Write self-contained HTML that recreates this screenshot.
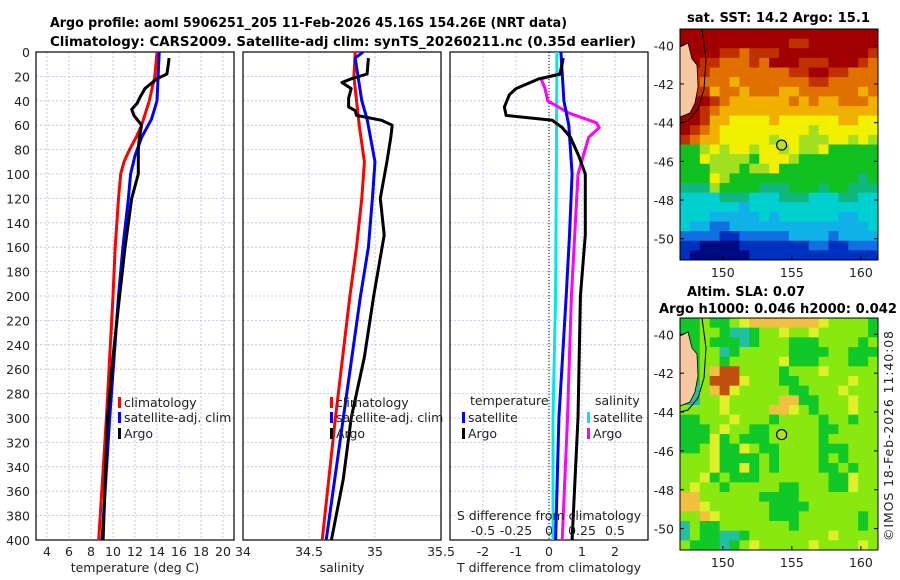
<!DOCTYPE html>
<html><head><meta charset="utf-8"><style>
body{margin:0;background:#fff}
svg{display:block;font-family:"DejaVu Sans","Liberation Sans",sans-serif}
.t{font-size:12.5px;fill:#222}
.b{font-size:13px;font-weight:bold;fill:#000}
</style></head><body>
<svg id="s" width="900" height="580" viewBox="0 0 900 580">
<text class="b" x="50" y="27" textLength="517" lengthAdjust="spacingAndGlyphs">Argo profile: aoml 5906251_205 11-Feb-2026 45.16S 154.26E (NRT data)</text>
<text class="b" x="50" y="46" textLength="586" lengthAdjust="spacingAndGlyphs">Climatology: CARS2009. Satellite-adj clim: synTS_20260211.nc (0.35d earlier)</text>
<text class="b" x="687" y="22" textLength="183" lengthAdjust="spacingAndGlyphs">sat. SST: 14.2 Argo: 15.1</text>
<text class="b" x="687" y="296" textLength="118" lengthAdjust="spacingAndGlyphs">Altim. SLA: 0.07</text>
<text class="b" x="659" y="313" textLength="238" lengthAdjust="spacingAndGlyphs">Argo h1000: 0.046 h2000: 0.042</text>
<text class="t" transform="translate(893,541) rotate(-90)" textLength="210">©IMOS 18-Feb-2026 11:40:08</text>
<g id="g"></g>
</svg>
<script>
// ---- data ----
const depthTicks=[0,20,40,60,80,100,120,140,160,180,200,220,240,260,280,300,320,340,360,380,400];
const tempTicks=[4,6,8,10,12,14,16,18,20];
const salTicks=[34,34.5,35,35.5];
const salTickLabels=["34","34.5","35","35.5"];
const tdiffTicks=[-2,-1,0,1,2];
const sdiffTicks=[-0.5,-0.25,0,0.25,0.5];
const sdiffTickLabels=["-0.5","-0.25","0","0.25","0.5"];
const climTD=[0,20,40,60,70,80,90,100,120,160,200,300,400];
const climT=[14.0,13.8,13.3,12.6,12.1,11.5,11.0,10.7,10.5,10.2,10.0,9.4,8.7];
const satTD=[0,20,40,55,70,85,100,120,160,200,300,400];
const satT=[14.2,14.1,14.0,13.5,12.6,12.0,11.6,11.4,10.9,10.5,9.7,9.0];
const argoTD=[5,12,18,22,30,38,42,47,52,60,70,80,100,120,140,160,200,250,300,350,400];
const argoT=[15.1,15.0,14.9,14.0,12.9,12.4,12.2,11.7,11.9,12.6,12.4,12.3,12.3,11.7,11.4,11.1,10.6,10.0,9.5,9.3,9.1];
const climSD=[0,20,60,90,120,160,200,300,400];
const climS=[34.85,34.84,34.88,34.92,34.90,34.86,34.81,34.70,34.60];
const satSD=[0,5,40,55,90,120,160,200,300,400];
const satS=[34.91,34.85,34.90,34.94,35.00,34.98,34.95,34.89,34.76,34.63];
const argoSD=[5,18,22,25,30,38,45,48,52,56,60,70,90,120,150,200,250,300,350,400];
const argoS=[34.95,34.94,34.82,34.75,34.82,34.80,34.80,34.85,34.86,35.05,35.13,35.12,35.09,35.04,35.07,34.99,34.92,34.82,34.76,34.67];
const dTD=[0,40,60,100,150,200,300,400];
const dTsat=[0.36,0.45,0.6,0.7,0.62,0.52,0.3,0.2];
const dTargoD=[5,18,22,30,35,45,52,56,62,70,85,100,150,200,300,400];
const dTargo=[0.42,0.35,-0.3,-1.0,-1.2,-1.35,-1.3,0.1,0.4,0.65,0.9,1.1,1.1,0.95,0.88,0.7];
const dSD=[0,100,200,300,400];
const dSsat=[0.06,0.055,0.05,0.03,0.03];
const dSargoD=[5,18,22,30,40,50,58,62,70,100,200,300,400];
const dSargo=[0.11,0.08,-0.06,-0.03,-0.01,0.15,0.36,0.38,0.3,0.22,0.17,0.14,0.1];
const sstRows=["cccccccccccccccccccc","cccccccccccbbccccccc","ccccbbabbbcccccccccb","ccbbaaabacccbbbcccba","cbbaaaaaaaabbccbbaaa","cbaaa9aaaaaaabbaaaaa","cbb9aa9aaa99aaaaaa9a","cccba999999a9a99aaa9","ccba9999999999999999","ccb99888898888889988","cba98888888887888888","ba998888878877788787","66787887887877866666","66877776888766666666","66677767786666666666","66687666666666666656","55576666555666566555","44445554445554445544","44444434444444444444","44433333434444443344","43322333333333333334","22221122222333323333","11000011111112211222","10000001111111111111"];
const slaRows=["gglgglyoooooooyllllg","ggllgttgllyllylllllg","gglgggtglllgggllllgl","gglltglllllggggllggg","ggllglllllyggglllggl","gglorrllllglllylllll","gglrrrylllgglllllyll","gtlorylllllgglllylll","gtllyllllloogglllyll","llllyllllooylglllyll","gglllylllgllllgllgll","ggglyllgglllllggllll","gggyglggglllllglllll","gglyggylggllllggglll","lllygggglgllllglglll","lllyggyglgllllgglgll","llyglggglllllllggyll","lyllglllllgglllggyll","oollllllggggllllllll","ooyllllllgggglllllll","lloylllllgggllllllgl","tlgglllllllgllllllgl","tlggttgllllllllyllll","lgggtglylllllyllllyl"];
const lonTicks=[150,155,160];
const latTicks=[-40,-42,-44,-46,-48,-50];
// ---- drawing ----
const NS="http://www.w3.org/2000/svg",G=document.getElementById('g');
function mk(t,a,p){const e=document.createElementNS(NS,t);for(const k in a)e.setAttribute(k,a[k]);(p||G).appendChild(e);return e;}
const Y0=52,Y1=540;const yD=d=>Y0+(Y1-Y0)*d/400;
const panels=[{x0:36,x1:234,lo:3,hi:21},{x0:243,x1:441,lo:34,hi:35.5},{x0:450,x1:648,lo:-3,hi:3}];
function xs(p,v){return p.x0+(p.x1-p.x0)*(v-p.lo)/(p.hi-p.lo);}
function frame(p,ticks,labels,nm){
  for(const d of depthTicks){const l=mk('line',{x1:p.x0,x2:p.x1,y1:yD(d),y2:yD(d),stroke:'#b8c0e0','stroke-width':0.8,'stroke-dasharray':'2,2'});
    }
  ticks.forEach((v,i)=>{const x=xs(p,v);const l=mk('line',{x1:x,x2:x,y1:Y0,y2:Y1,stroke:'#b8c0e0','stroke-width':0.8,'stroke-dasharray':'2,2'});
    
    const t=mk('text',{x:x,y:556,'text-anchor':'middle',class:'t'});t.textContent=labels[i];
    });
  const r=mk('rect',{x:p.x0,y:Y0,width:p.x1-p.x0,height:Y1-Y0,fill:'none',stroke:'#000','stroke-width':1.2});
  
}
function line(p,vals,depths,col,nm,scale){scale=scale||1;
  const pts=vals.map((v,i)=>xs(p,v*scale).toFixed(1)+','+yD(depths[i]).toFixed(1)).join(' ');
  const l=mk('polyline',{points:pts,fill:'none',stroke:col,'stroke-width':3,'stroke-linejoin':'round'});
  }
function txt(x,y,s,nm,a){const t=mk('text',Object.assign({x:x,y:y,class:'t'},a||{}));t.textContent=s;
  return t;}
function leg(x,y,col,s,nm){const r=mk('rect',{x:x,y:y-10,width:3,height:11,fill:col});
  txt(x+6,y,s,nm);}
// panel 1
frame(panels[0],tempTicks,tempTicks.map(String),'temp');
depthTicks.forEach(d=>txt(30,yD(d)+5,String(d),'depth-tick-label',{'text-anchor':'end'}));
line(panels[0],climT,climTD,'#ff0000','temp-climatology-line');
line(panels[0],satT,satTD,'#0000ff','temp-satellite-line');
line(panels[0],argoT,argoTD,'#000000','temp-argo-line');
txt(135,572,'temperature (deg C)','temp-x-axis-title',{'text-anchor':'middle'});
leg(118,407,'#ff0000','climatology','temp-legend-climatology');leg(118,422,'#0000ff','satellite-adj. clim','temp-legend-satellite');leg(118,438,'#000','Argo','temp-legend-argo');
// panel 2
frame(panels[1],salTicks,salTickLabels,'sal');
line(panels[1],climS,climSD,'#ff0000','sal-climatology-line');
line(panels[1],satS,satSD,'#0000ff','sal-satellite-line');
line(panels[1],argoS,argoSD,'#000000','sal-argo-line');
txt(342,572,'salinity','sal-x-axis-title',{'text-anchor':'middle'});
leg(330,407,'#ff0000','climatology','sal-legend-climatology');leg(330,422,'#0000ff','satellite-adj. clim','sal-legend-satellite');leg(330,438,'#000','Argo','sal-legend-argo');
// panel 3
const p3=panels[2];
frame(p3,tdiffTicks,tdiffTicks.map(String),'diff');
const z=mk('line',{x1:xs(p3,0),x2:xs(p3,0),y1:Y0,y2:Y1,stroke:'#000','stroke-width':1,'stroke-dasharray':'1,2'});
line(p3,dSsat,dSD,'#00e8e8','diff-s-satellite-line',4);
line(p3,dSargo,dSargoD,'#ff00ff','diff-s-argo-line',4);
line(p3,dTsat,dTD,'#0000ff','diff-t-satellite-line');
line(p3,dTargo,dTargoD,'#000000','diff-t-argo-line');
txt(549,572,'T difference from climatology','diff-x-axis-title',{'text-anchor':'middle'});
txt(549,520,'S difference from climatology','s-diff-axis-title',{'text-anchor':'middle'});
sdiffTicks.forEach((v,i)=>txt(xs(p3,v*4),535,sdiffTickLabels[i],'s-diff-tick-label',{'text-anchor':'middle'}));
txt(470,405,'temperature','diff-legend-temp-heading');txt(595,405,'salinity','diff-legend-sal-heading');
leg(462,422,'#0000ff','satellite','diff-legend-t-satellite');leg(462,438,'#000','Argo','diff-legend-t-argo');
leg(587,422,'#00e8e8','satellite','diff-legend-s-satellite');leg(587,438,'#ff00ff','Argo','diff-legend-s-argo');
// maps
const sstCol={'0':'#000a80','1':'#0030c0','2':'#1070e0','3':'#10b0e8','4':'#00d0d0','5':'#10b880','6':'#10c020','7':'#a0e020','8':'#f0f000','9':'#f0b000','a':'#e07000','b':'#c03000','c':'#a00000'};
const slaCol={'g':'#10c828','l':'#88e810','y':'#e0f028','o':'#f0c040','r':'#c05010','t':'#20c0a0'};
const LON0=146.9,LON1=161.24,LATT=-39.16,LATB=-51.1;
function map(y0,y1,rows,cols,nm){
  const x0=680,x1=878,nr=rows.length,nc=20,cw=(x1-x0)/nc,ch=(y1-y0)/nr;
  rows.forEach((r,i)=>{for(let j=0;j<nc;j++){const k=r[Math.min(j,r.length-1)];const c=mk('rect',{x:x0+j*cw,y:y0+i*ch,width:cw+0.5,height:ch+0.5,fill:cols[k]||'#88e810'});
    }});
  const yl=lat=>y0+(y1-y0)*(LATT-lat)/(LATT-LATB);
  const xl=lon=>x0+(x1-x0)*(lon-LON0)/(LON1-LON0);
  const land=mk('path',{d:`M${x0},${y0+18} L${x0+8},${y0+14} L${x0+12},${y0+30} L${x0+17},${y0+36} L${x0+18},${y0+58} L${x0+15},${y0+74} L${x0+10},${y0+84} L${x0},${y0+88} Z`,fill:'#f8c8a0',stroke:'#000','stroke-width':0.8});
  
  const cz=mk('path',{d:`M${x0+22},${y0} L${x0+26},${y0+30} L${x0+24},${y0+60} L${x0+18},${y0+80} L${x0+8},${y0+92} L${x0},${y0+94}`,fill:'none',stroke:'#000','stroke-width':1});
  
  const f=mk('rect',{x:x0,y:y0,width:x1-x0,height:y1-y0,fill:'none',stroke:'#000','stroke-width':1});
  latTicks.forEach(l=>{txt(x0-6,yl(l)+5,String(l),nm+'-lat-label',{'text-anchor':'end'});mk('line',{x1:x0,x2:x0+4,y1:yl(l),y2:yl(l),stroke:'#000'});mk('line',{x1:x1,x2:x1-4,y1:yl(l),y2:yl(l),stroke:'#000'});});
  lonTicks.forEach(l=>{const x=xl(l);txt(x,y1+17,String(l),nm+'-lon-label',{'text-anchor':'middle'});mk('line',{x1:x,x2:x,y1:y1,y2:y1-4,stroke:'#000'});});
  const c=mk('circle',{cx:xl(154.26),cy:yl(-45.16),r:5,fill:'#b8e020',stroke:'#000','stroke-width':1.2});
}
map(29,260,sstRows,sstCol,'sst-map');
map(318,550,slaRows,slaCol,'sla-map');
</script>
</body></html>
